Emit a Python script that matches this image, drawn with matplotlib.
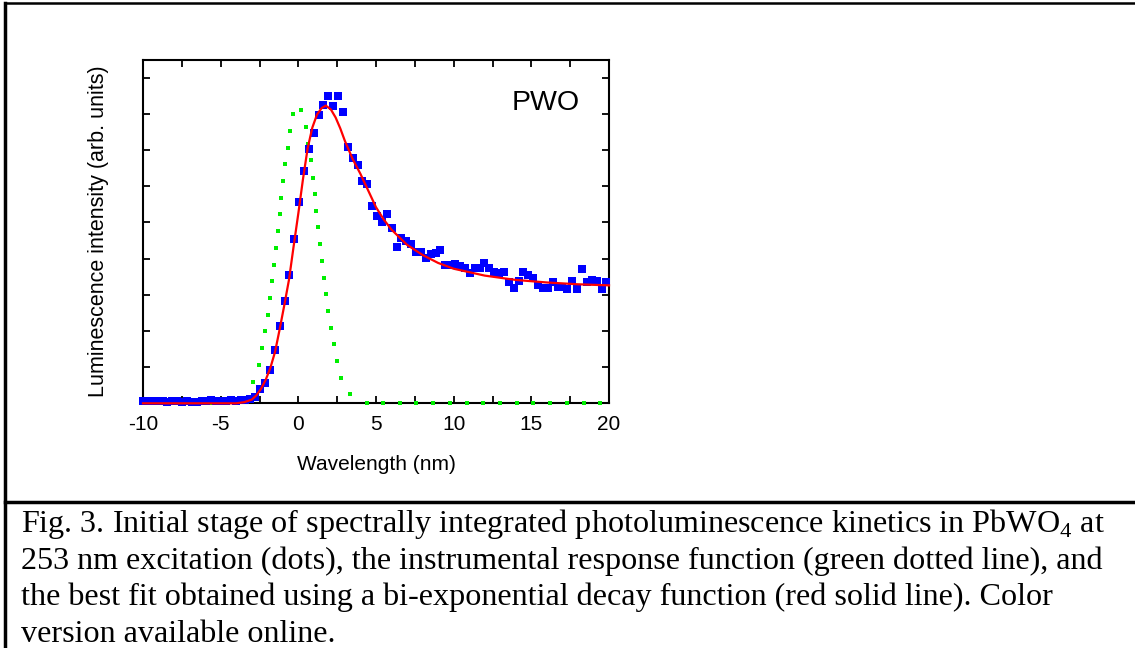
import matplotlib
matplotlib.use('Agg')
import matplotlib.pyplot as plt
from matplotlib.lines import Line2D
from matplotlib.ticker import MultipleLocator, NullFormatter

# measured kinetics (blue squares)
time_x = [-10.00, -9.69, -9.37, -9.06, -8.74, -8.43, -8.12, -7.80, -7.49, -7.17,
          -6.86, -6.55, -6.23, -5.92, -5.60, -5.29, -4.98, -4.66, -4.35, -4.03,
          -3.72, -3.41, -3.09, -2.78, -2.46, -2.15, -1.84, -1.52, -1.21, -0.89,
          -0.58, -0.27, 0.05, 0.36, 0.68, 0.99, 1.30, 1.62, 1.93, 2.25,
          2.56, 2.87, 3.19, 3.50, 3.82, 4.13, 4.44, 4.76, 5.07, 5.39,
          5.70, 6.01, 6.33, 6.64, 6.96, 7.27, 7.58, 7.90, 8.21, 8.53,
          8.84, 9.15, 9.47, 9.78, 10.10, 10.41, 10.72, 11.04, 11.35, 11.67,
          11.98, 12.29, 12.61, 12.92, 13.24, 13.55, 13.86, 14.18, 14.49, 14.81,
          15.12, 15.43, 15.75, 16.06, 16.38, 16.69, 17.00, 17.32, 17.63, 17.95,
          18.26, 18.57, 18.89, 19.20, 19.52, 19.83]
signal = [0.07, 0.06, 0.06, 0.05, 0.05, 0.04, 0.05, 0.05, 0.03, 0.05,
          0.04, 0.03, 0.05, 0.05, 0.09, 0.06, 0.05, 0.07, 0.09, 0.07,
          0.08, 0.10, 0.12, 0.18, 0.39, 0.55, 0.92, 1.46, 2.14, 2.83,
          3.56, 4.53, 5.56, 6.42, 7.04, 7.46, 7.98, 8.24, 8.49, 8.22,
          8.49, 8.04, 7.09, 6.78, 6.58, 6.15, 6.07, 5.45, 5.18, 5.02,
          5.23, 4.85, 4.33, 4.56, 4.48, 4.40, 4.17, 4.17, 4.02, 4.14,
          4.15, 4.23, 3.82, 3.82, 3.85, 3.80, 3.75, 3.59, 3.75, 3.73,
          3.87, 3.75, 3.64, 3.59, 3.64, 3.36, 3.20, 3.39, 3.62, 3.54,
          3.45, 3.27, 3.18, 3.19, 3.36, 3.22, 3.22, 3.16, 3.39, 3.16,
          3.71, 3.36, 3.41, 3.38, 3.16, 3.34]

# bi-exponential fit (red line)
fit_x = [-10.0, -4.0, -3.5, -3.0, -2.7, -2.4, -2.1, -1.8, -1.5, -1.2,
         -0.9, -0.6, -0.3, 0.0, 0.3, 0.6, 0.9, 1.2, 1.5, 1.77,
         2.1, 2.4, 2.7, 3.0, 3.5, 4.0, 4.5, 5.0, 5.5, 6.0,
         7.0, 8.0, 9.0, 10.0, 12.0, 14.0, 16.0, 18.0, 20.0]
fit_y = [0.0, 0.0, 0.03, 0.10, 0.22, 0.40, 0.65, 0.98, 1.42, 2.05,
         2.72, 3.42, 4.35, 5.25, 6.20, 7.05, 7.62, 7.98, 8.16, 8.23,
         8.12, 7.90, 7.60, 7.25, 6.75, 6.34, 5.88, 5.42, 5.08, 4.80,
         4.38, 4.10, 3.88, 3.72, 3.53, 3.41, 3.34, 3.29, 3.26]

# instrumental response function (green dots)
irf_x = [-8.91, -7.83, -6.76, -5.69, -4.61, -3.54, -2.90, -2.55, -2.34, -2.12,
         -1.97, -1.82, -1.69, -1.56, -1.42, -1.31, -1.20, -1.10, -0.97, -0.84,
         -0.69, -0.56, -0.34, 0.19, 0.47, 0.64, 0.80, 0.93, 1.06, 1.16,
         1.29, 1.40, 1.53, 1.65, 1.78, 1.93, 2.11, 2.28, 2.49, 2.77,
         3.31, 4.40, 5.47, 6.55, 7.58, 8.65, 9.77, 10.84, 11.91, 12.99,
         14.06, 15.13, 16.21, 17.28, 18.36, 19.43]
irf_y = [0.0, 0.0, 0.0, 0.0, 0.0, 0.14, 0.60, 1.06, 1.52, 1.99,
         2.45, 2.90, 3.37, 3.83, 4.29, 4.75, 5.22, 5.68, 6.15, 6.61,
         7.06, 7.53, 7.99, 8.10, 7.64, 7.18, 6.72, 6.24, 5.78, 5.32,
         4.86, 4.40, 3.94, 3.47, 3.02, 2.55, 2.09, 1.63, 1.17, 0.71,
         0.25, 0.0, 0.0, 0.0, 0.0, 0.0, 0.0, 0.0, 0.0, 0.0,
         0.0, 0.0, 0.0, 0.0, 0.0, 0.0]

x_ticklabels = ['-10', '-5', '0', '5', '10', '15', '20']

caption = [
    'Fig. 3. Initial stage of spectrally integrated photoluminescence kinetics in PbWO$_4$ at',
    '253 nm excitation (dots), the instrumental response function (green dotted line), and',
    'the best fit obtained using a bi-exponential decay function (red solid line). Color',
    'version available online.',
]

plt.rcParams['font.family'] = ['Liberation Sans', 'DejaVu Sans']
plt.rcParams['mathtext.fontset'] = 'custom'
plt.rcParams['mathtext.rm'] = 'Liberation Serif'

W, H = 1135, 648
fig = plt.figure(figsize=(W / 100, H / 100), dpi=100)
ax = fig.add_axes([143 / W, (H - 403.3) / H, 466 / W, 343.3 / H])

ax.plot(irf_x, irf_y, ls='none', marker='s', ms=2.8, mew=0, color='#00ee00',
        clip_on=False, zorder=3)
ax.plot(time_x, signal, ls='none', marker='s', ms=5.9, mew=0, color='#0000ff',
        clip_on=False, zorder=4)
ax.plot(fit_x, fit_y, color='#ff0000', lw=1.6, clip_on=False, zorder=5)

ax.set_xlim(-10, 20)
ax.set_ylim(0, 9.49)
ax.xaxis.set_minor_locator(MultipleLocator(2.5))
ax.set_xticks([-10, -5, 0, 5, 10, 15, 20])
ax.set_xticklabels(x_ticklabels)
ax.yaxis.set_major_locator(MultipleLocator(1))
ax.yaxis.set_major_formatter(NullFormatter())
ax.tick_params(which='both', direction='in', top=True, right=True,
               length=5, width=1.3, labelsize=15, pad=8.5)
for s in ax.spines.values():
    s.set_linewidth(1.5)

ax.set_xlabel('Wavelength (nm)', fontsize=15)
ax.xaxis.set_label_coords(0.5, -0.152)
ax.set_ylabel('Luminescence intensity (arb. units)', fontsize=15.5)
ax.yaxis.set_label_coords(-0.072, 0.5)

ax.text(0.791, 0.854, 'PWO', transform=ax.transAxes, fontsize=20.5,
        ha='left', va='baseline')

# frame and separator of the figure box
fig.add_artist(Line2D([5 / W, 5 / W], [0, 1 - 3 / H], color='black', lw=2.5))
fig.add_artist(Line2D([5 / W, 1], [1 - 3 / H, 1 - 3 / H], color='black', lw=1.8))
fig.add_artist(Line2D([5 / W, 1], [1 - 501.5 / H, 1 - 501.5 / H], color='black', lw=2.5))

for k, line in enumerate(caption):
    fig.text(21 / W, 1 - (532 + 36.5 * k) / H, line, family='Liberation Serif',
             fontsize=23.1, ha='left', va='baseline')

fig.savefig('out.png', dpi=100)
